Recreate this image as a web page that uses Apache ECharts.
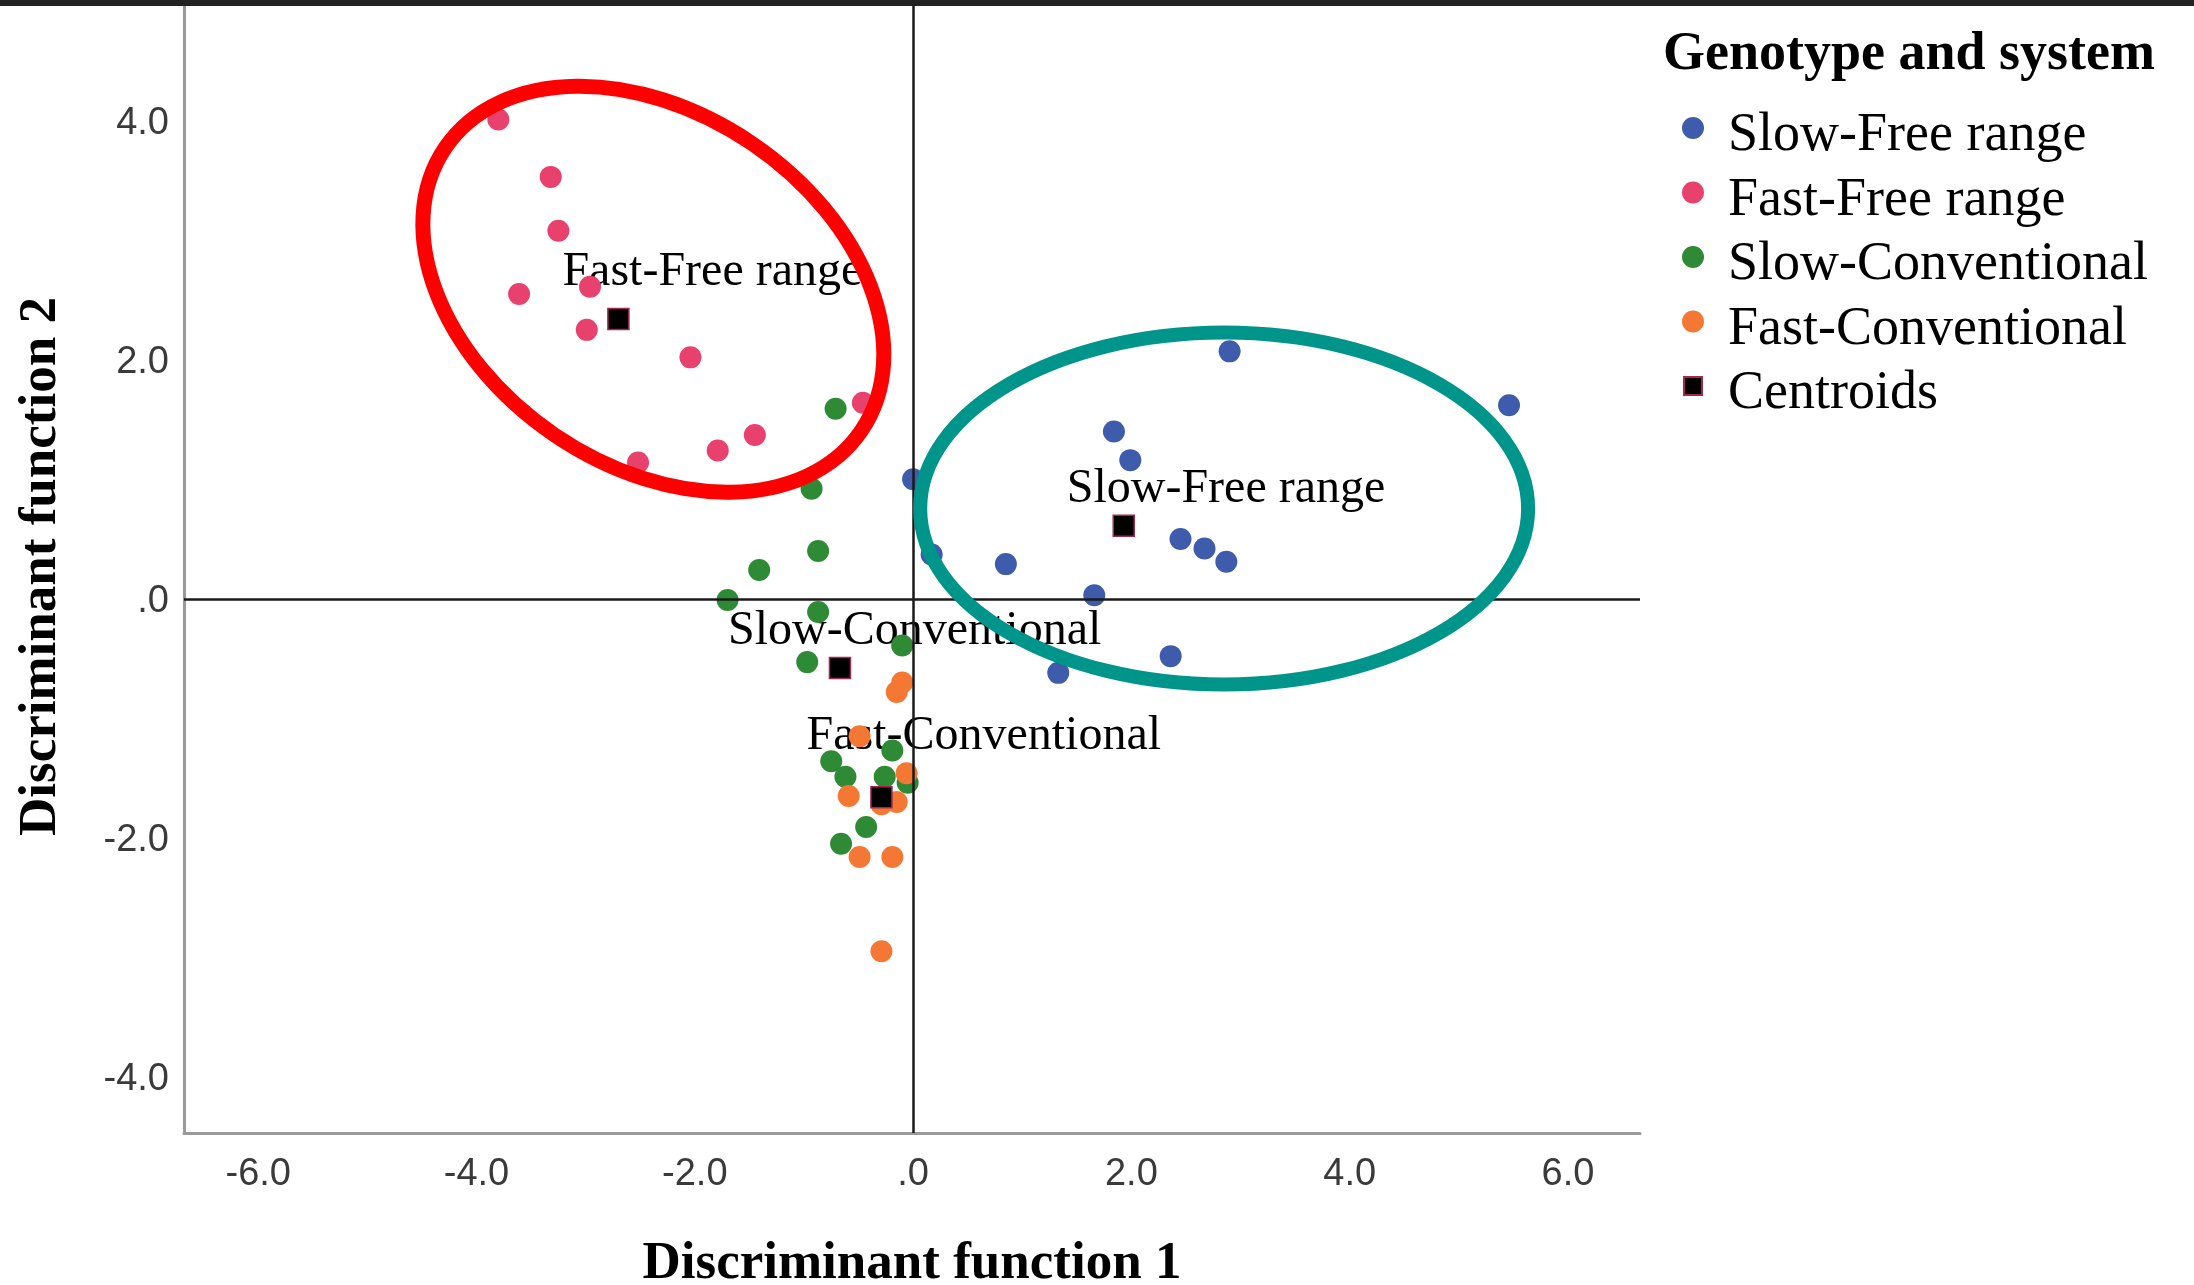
<!DOCTYPE html>
<html><head><meta charset="utf-8">
<script src="https://cdn.jsdelivr.net/npm/echarts@6/dist/echarts.min.js"></script>
<style>html,body{margin:0;padding:0;background:#fff}#c{width:2194px;height:1285px}</style>
</head><body><div id="c"></div>
<script>
// ---------- data ----------
const groupNames = ['Slow-Free range', 'Fast-Free range', 'Slow-Conventional', 'Fast-Conventional', 'Centroids'];
const slowFree = [[2.90,2.07],[5.46,1.62],[1.84,1.40],[1.99,1.16],[0.00,1.00],[2.45,0.50],[2.67,0.42],[2.87,0.31],[0.17,0.37],[0.85,0.29],[1.66,0.03],[2.36,-0.48],[1.33,-0.62]];
const fastFree = [[-3.80,4.01],[-3.32,3.53],[-3.25,3.08],[-3.61,2.55],[-2.96,2.61],[-2.99,2.25],[-2.04,2.02],[-0.46,1.64],[-1.45,1.37],[-1.79,1.24],[-2.52,1.14]];
const slowConv = [[-0.71,1.59],[-0.93,0.92],[-0.87,0.40],[-1.41,0.24],[-1.70,-0.01],[-0.87,-0.11],[-0.10,-0.39],[-0.97,-0.53],[-0.19,-1.27],[-0.75,-1.36],[-0.62,-1.49],[-0.26,-1.49],[-0.05,-1.54],[-0.43,-1.91],[-0.66,-2.05]];
const fastConv = [[-0.10,-0.70],[-0.15,-0.78],[-0.49,-1.15],[-0.06,-1.46],[-0.59,-1.65],[-0.15,-1.70],[-0.29,-1.72],[-0.49,-2.16],[-0.19,-2.16],[-0.29,-2.95]];
const centroids = [[1.93,0.61],[-2.70,2.34],[-0.67,-0.58],[-0.29,-1.66]];
const centroidNames = ['Slow-Free range','Fast-Free range','Slow-Conventional','Fast-Conventional'];
const xTickValues = [-6,-4,-2,0,2,4,6];
const xTickLabels = ['-6.0','-4.0','-2.0','.0','2.0','4.0','6.0'];
const yTickValues = [-4,-2,0,2,4];
const yTickLabels = ['-4.0','-2.0','.0','2.0','4.0'];
const xTitle = 'Discriminant function 1';
const yTitle = 'Discriminant function 2';
const legendTitle = 'Genotype and system';
// annotation ellipses: [centerX, centerY, semiAxisA, semiAxisB (both in x-axis units), angle deg]
const annotEllipses = [[-2.38, 2.59, 2.305, 1.613, -34.2], [2.85, 0.755, 2.785, 1.612, 0]];

// ---------- styles ----------
const colors = ['#3f5bab', '#e8416e', '#2f8a36', '#f47834', '#000000'];
const ellipseColors = ['#ff0000', '#00958a'];
const ellipseWidths = [15, 14];
const labelOffsets = [[-57,-36],[-56,-47],[-112,-37],[-75,-61]];
const serif = 'Liberation Serif, Times New Roman, serif';
const sans = 'Liberation Sans, Arial, sans-serif';
// square centred in the 60x22 legend icon box
const squareIcon = 'path://M0,0M60,22M21,2L39,2L39,20L21,20Z';

const chart = echarts.init(document.getElementById('c'), null, {renderer: 'canvas'});

function pts(name, data, color) {
  return {
    name: name, type: 'scatter', data: data, symbol: 'circle', symbolSize: 22,
    itemStyle: {color: color, opacity: 1}, z: 3, silent: true, animation: false
  };
}

const option = {
  animation: false,
  backgroundColor: '#ffffff',
  title: {
    text: legendTitle, left: 1663, top: 28, padding: 0,
    textStyle: {fontFamily: serif, fontWeight: 'bold', fontSize: 54, color: '#000'}
  },
  legend: {
    orient: 'vertical', left: 1662, top: 93, padding: 0,
    itemWidth: 60, itemHeight: 22, itemGap: -5.5,
    formatter: '{t|{name}}',
    textStyle: {
      fontFamily: serif, fontSize: 54, color: '#000',
      rich: {t: {fontFamily: serif, fontSize: 54, color: '#000', lineHeight: 54, padding: [16, 0, 0, 0]}}
    },
    data: groupNames.map((n, i) => i === 4 ? ({name: n, icon: squareIcon}) : ({name: n})),
    selectedMode: false
  },
  grid: {left: 184, right: 554, top: 0, bottom: 152, outerBoundsMode: 'none', containLabel: false},
  xAxis: {
    type: 'value', min: -6.68, max: 6.66,
    name: xTitle, nameLocation: 'middle', nameGap: 105,
    nameTextStyle: {fontFamily: serif, fontWeight: 'bold', fontSize: 53, color: '#000'},
    axisLine: {show: true, onZero: false, lineStyle: {color: '#9a9a9a', width: 3}},
    axisTick: {show: false},
    splitLine: {show: false},
    axisLabel: {
      customValues: xTickValues, margin: 23,
      fontFamily: sans, fontSize: 38, color: '#3a3a3a',
      formatter: v => { const i = xTickValues.indexOf(Math.round(v)); return i >= 0 ? xTickLabels[i] : ''; }
    }
  },
  yAxis: {
    type: 'value', min: -4.47, max: 5.01,
    name: yTitle, nameLocation: 'middle', nameGap: 116,
    nameTextStyle: {fontFamily: serif, fontWeight: 'bold', fontSize: 53, color: '#000'},
    axisLine: {show: true, onZero: false, lineStyle: {color: '#9a9a9a', width: 3}},
    axisTick: {show: false},
    splitLine: {show: false},
    axisLabel: {
      customValues: yTickValues, margin: 15,
      fontFamily: sans, fontSize: 38, color: '#3a3a3a',
      rich: {v: {fontFamily: sans, fontSize: 38, color: '#3a3a3a', lineHeight: 38, padding: [6, 0, 0, 0]}},
      formatter: v => { const i = yTickValues.indexOf(Math.round(v)); return i >= 0 ? '{v|' + yTickLabels[i] + '}' : ''; }
    }
  },
  graphic: [{
    type: 'rect', left: 0, top: 0, z: 100,
    shape: {width: 2194, height: 6}, style: {fill: '#222222'}
  }],
  series: [
    {
      name: 'centroid-labels', type: 'scatter', z: 1, silent: true,
      symbolSize: 1, itemStyle: {color: 'rgba(0,0,0,0)', opacity: 1},
      data: centroids.map((c, i) => ({
        value: c, name: centroidNames[i],
        label: {
          show: true, position: 'inside', align: 'left', verticalAlign: 'middle',
          offset: labelOffsets[i], formatter: centroidNames[i],
          fontFamily: serif, fontSize: 48, color: '#000', opacity: 1
        }
      })),
      markLine: {
        silent: true, symbol: 'none', animation: false,
        label: {show: false},
        lineStyle: {color: '#1a1a1a', width: 2.5, type: 'solid', opacity: 1},
        data: [{xAxis: 0}, {yAxis: 0}]
      }
    },
    pts(groupNames[0], slowFree, colors[0]),
    pts(groupNames[1], fastFree, colors[1]),
    pts(groupNames[2], slowConv, colors[2]),
    pts(groupNames[3], fastConv, colors[3]),
    {
      name: groupNames[4], type: 'scatter', data: centroids, symbol: 'rect', symbolSize: 21,
      itemStyle: {color: '#000', borderColor: '#a3284f', borderWidth: 1.5, opacity: 1}, z: 4, silent: true
    },
    {
      name: 'annotations', type: 'custom', z: 10, silent: true, clip: false,
      data: annotEllipses, encode: {x: 0, y: 1},
      renderItem: function (params, api) {
        const p = api.coord([api.value(0), api.value(1)]);
        const ra = api.size([api.value(2), 0])[0];
        const rb = api.size([api.value(3), 0])[0];
        const ang = api.value(4) * Math.PI / 180;
        return {
          type: 'ellipse', x: p[0], y: p[1], rotation: ang,
          shape: {cx: 0, cy: 0, rx: ra, ry: rb},
          style: {fill: 'none', stroke: ellipseColors[params.dataIndex], lineWidth: ellipseWidths[params.dataIndex]}
        };
      }
    }
  ]
};
chart.setOption(option);
</script></body></html>
